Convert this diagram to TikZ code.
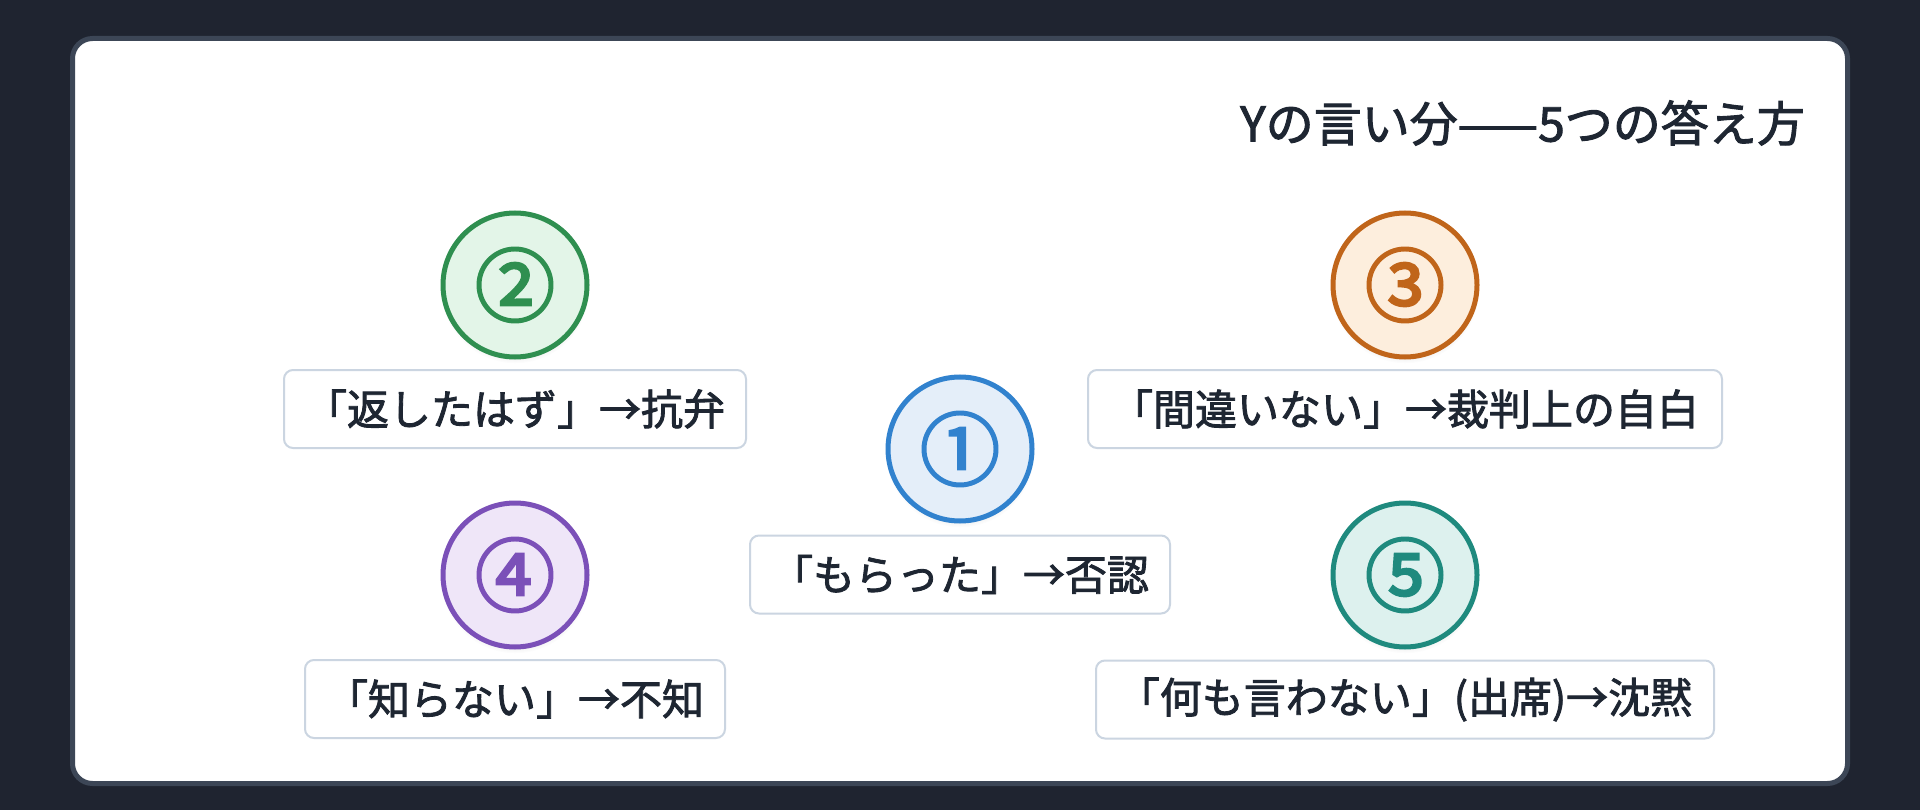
\documentclass[tikz,border=0pt]{standalone}
\usepackage{fontspec}
\setmainfont{Noto Sans CJK JP}
\newfontfamily\medfont[FakeBold=2]{Noto Sans CJK JP}
\newfontfamily\numfont[FakeBold=3]{Noto Sans CJK JP}
\usepackage{xcolor}
\usepackage{tikz}
\usetikzlibrary{shadows}
\definecolor{bg}{HTML}{1F2430}
\definecolor{cardedge}{HTML}{3C4656}
\definecolor{ink}{HTML}{1E2632}
\definecolor{tagedge}{HTML}{CBD5E1}
\definecolor{blueline}{HTML}{3182CE}
\definecolor{bluefill}{HTML}{E4EEF9}
\definecolor{greenline}{HTML}{2F8F50}
\definecolor{greenfill}{HTML}{E3F5E8}
\definecolor{orangeline}{HTML}{C0651A}
\definecolor{orangefill}{HTML}{FDEEDD}
\definecolor{purpleline}{HTML}{7B50B8}
\definecolor{purplefill}{HTML}{EFE6F8}
\definecolor{tealline}{HTML}{1F8A7E}
\definecolor{tealfill}{HTML}{DDF1EE}
\tikzset{
  card/.style={draw=cardedge, line width=5pt, fill=white, rounded corners=20pt},
  num/.style={circle, line width=5pt, minimum size=144pt, inner sep=0pt,
    font=\numfont\fontsize{80}{80}\selectfont,
    circular drop shadow={shadow xshift=0pt, shadow yshift=-4pt, shadow scale=1.03, opacity=0.18}},
  tag/.style={draw=tagedge, line width=2pt, fill=white, rounded corners=9pt,
    minimum height=78pt, inner sep=0pt, text=ink, font=\medfont\fontsize{42}{50}\selectfont},
  ttl/.style={text=ink, font=\medfont\fontsize{48}{56}\selectfont, anchor=east, inner sep=0pt},
}
\begin{document}
\begin{tikzpicture}[x={(1pt,0)}, y={(0,-1pt)}]
  \fill[bg] (0,0) rectangle (1920,810);
  \draw[card] (72.5,38.5) rectangle (1847.5,783.5);
  \node[ttl] (title) at (1805,123) {Yの言い分——5つの答え方};
  % the five answers
  \node[num, draw=blueline, fill=bluefill, text=blueline] (n1) at (960,449) {①};
  \node[num, draw=greenline, fill=greenfill, text=greenline] (n2) at (515,285) {②};
  \node[num, draw=orangeline, fill=orangefill, text=orangeline] (n3) at (1405,285) {③};
  \node[num, draw=purpleline, fill=purplefill, text=purpleline] (n4) at (515,575) {④};
  \node[num, draw=tealline, fill=tealfill, text=tealline] (n5) at (1405,575) {⑤};
  \node[tag, minimum width=420pt] (t1) at (960,574.5) {「もらった」→否認};
  \node[tag, minimum width=462pt] (t2) at (515,409) {「返したはず」→抗弁};
  \node[tag, minimum width=634pt] (t3) at (1405,409) {「間違いない」→裁判上の自白};
  \node[tag, minimum width=420pt] (t4) at (515,699) {「知らない」→不知};
  \node[tag, minimum width=618pt] (t5) at (1405,699.5) {「何も言わない」(出席)→沈黙};
\end{tikzpicture}
\end{document}
